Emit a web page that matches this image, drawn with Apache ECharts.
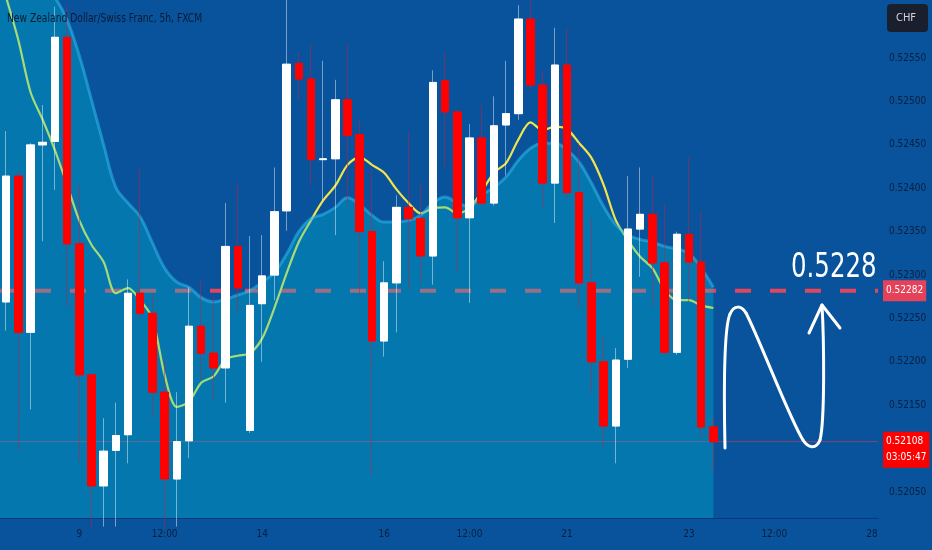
<!DOCTYPE html>
<html>
<head>
<meta charset="utf-8">
<script src="https://cdn.jsdelivr.net/npm/echarts@6/dist/echarts.min.js"></script>
<style>
  html, body { margin: 0; padding: 0; background: #08539c; }
  #chart { width: 932px; height: 550px; }
</style>
</head>
<body>
<div id="chart"></div>
<script>
const FONT = "'DejaVu Sans Condensed', 'DejaVu Sans', sans-serif";

// 5h candles
const opens = [
  0.52269, 0.52414, 0.52234, 0.52450, 0.52454, 0.52574, 0.52336, 0.52185, 0.52057, 0.52098,
  0.52116, 0.52279, 0.52256, 0.52165, 0.52065, 0.52109, 0.52241, 0.52210, 0.52193, 0.52333,
  0.52121, 0.52267, 0.52300, 0.52374, 0.52544, 0.52526, 0.52433, 0.52434, 0.52502, 0.52462,
  0.52350, 0.52224, 0.52291, 0.52378, 0.52365, 0.52322, 0.52524, 0.52488, 0.52366, 0.52458,
  0.52383, 0.52473, 0.52486, 0.52595, 0.52519, 0.52406, 0.52542, 0.52395, 0.52291, 0.52200,
  0.52126, 0.52203, 0.52353, 0.52370, 0.52314, 0.52211, 0.52347, 0.52315, 0.52125
];
const closes = [
  0.52414, 0.52234, 0.52450, 0.52453, 0.52574, 0.52336, 0.52185, 0.52057, 0.52097, 0.52115,
  0.52279, 0.52256, 0.52165, 0.52065, 0.52108, 0.52241, 0.52210, 0.52193, 0.52333, 0.52285,
  0.52265, 0.52299, 0.52373, 0.52543, 0.52526, 0.52433, 0.52434, 0.52502, 0.52461, 0.52350,
  0.52224, 0.52291, 0.52378, 0.52365, 0.52322, 0.52522, 0.52488, 0.52366, 0.52458, 0.52383,
  0.52472, 0.52486, 0.52595, 0.52519, 0.52406, 0.52542, 0.52395, 0.52291, 0.52200, 0.52126,
  0.52202, 0.52353, 0.52370, 0.52314, 0.52211, 0.52347, 0.52315, 0.52125, 0.52108
];
const lows = [
  0.52236, 0.52098, 0.52145, 0.52339, 0.52398, 0.52263, 0.52085, 0.52010, 0.52010, 0.52010,
  0.52083, 0.52250, 0.52136, 0.52010, 0.52010, 0.52089, 0.52179, 0.52157, 0.52153, 0.52257,
  0.52118, 0.52200, 0.52271, 0.52351, 0.52502, 0.52403, 0.52386, 0.52346, 0.52383, 0.52277,
  0.52070, 0.52206, 0.52234, 0.52283, 0.52291, 0.52289, 0.52424, 0.52304, 0.52268, 0.52380,
  0.52380, 0.52415, 0.52479, 0.52515, 0.52378, 0.52360, 0.52388, 0.52262, 0.52164, 0.52102,
  0.52083, 0.52193, 0.52298, 0.52263, 0.52208, 0.52208, 0.52269, 0.52111, 0.52075
];
const highs = [
  0.52466, 0.52420, 0.52452, 0.52496, 0.52609, 0.52611, 0.52404, 0.52186, 0.52135, 0.52153,
  0.52295, 0.52423, 0.52279, 0.52202, 0.52165, 0.52286, 0.52294, 0.52274, 0.52383, 0.52407,
  0.52345, 0.52346, 0.52424, 0.52625, 0.52557, 0.52567, 0.52547, 0.52525, 0.52567, 0.52479,
  0.52423, 0.52316, 0.52392, 0.52465, 0.52407, 0.52536, 0.52557, 0.52490, 0.52474, 0.52496,
  0.52506, 0.52547, 0.52611, 0.52620, 0.52536, 0.52585, 0.52585, 0.52452, 0.52366, 0.52229,
  0.52216, 0.52414, 0.52424, 0.52414, 0.52382, 0.52350, 0.52436, 0.52374, 0.52136
];

// upper edge of the shaded band, one value per candle
const cloud = [
  0.52732, 0.52698, 0.52663, 0.52634, 0.52620, 0.52594, 0.52553, 0.52502, 0.52450, 0.52401,
  0.52383, 0.52367, 0.52337, 0.52308, 0.52292, 0.52286, 0.52274, 0.52269, 0.52272, 0.52277,
  0.52282, 0.52292, 0.52303, 0.52324, 0.52350, 0.52365, 0.52370, 0.52378, 0.52389, 0.52381,
  0.52369, 0.52361, 0.52361, 0.52363, 0.52369, 0.52383, 0.52390, 0.52383, 0.52379, 0.52392,
  0.52401, 0.52413, 0.52432, 0.52446, 0.52452, 0.52452, 0.52444, 0.52430, 0.52406, 0.52379,
  0.52358, 0.52346, 0.52341, 0.52338, 0.52333, 0.52330, 0.52325, 0.52308, 0.52286
];

// moving average line
const ma = [
  0.52620, 0.52571, 0.52511, 0.52479, 0.52444, 0.52404, 0.52363, 0.52335, 0.52315, 0.52279,
  0.52285, 0.52271, 0.52250, 0.52185, 0.52148, 0.52154, 0.52176, 0.52183, 0.52203, 0.52207,
  0.52210, 0.52227, 0.52262, 0.52302, 0.52338, 0.52363, 0.52386, 0.52403, 0.52427, 0.52436,
  0.52427, 0.52418, 0.52399, 0.52383, 0.52371, 0.52377, 0.52378, 0.52371, 0.52377, 0.52396,
  0.52418, 0.52429, 0.52456, 0.52476, 0.52467, 0.52471, 0.52468, 0.52452, 0.52435, 0.52404,
  0.52363, 0.52340, 0.52321, 0.52308, 0.52283, 0.52271, 0.52271, 0.52265, 0.52262
];

const slotCount = 72; // candles plus empty future slots on the time axis
const tickIndex = [6, 13, 21, 31, 38, 46, 56, 63, 71];
const tickText = ["9", "12:00", "14", "16", "12:00", "21", "23", "12:00", "28"];
const priceTicks = [0.5205, 0.521, 0.5215, 0.522, 0.5225, 0.523, 0.5235, 0.524, 0.5245, 0.525, 0.5255];

const targetLevel = 0.52282;
const lastPrice = 0.52108;
const countdown = "03:05:47";

const categories = [];
for (let i = 0; i < slotCount; i++) categories.push(String(i));

const ohlc = opens.map((o, i) => [o, closes[i], lows[i], highs[i]]);
const bodies = opens.map((o, i) => [o, closes[i], Math.min(o, closes[i]), Math.max(o, closes[i])]);

// horizontal level across the whole plot, with a price tag at the right end
function levelSeries(name, value, lineStyle, labelText, tag) {
  return {
    name: name,
    type: "line",
    xAxisIndex: 1,
    data: [[-0.5, value], [slotCount - 0.5, value]],
    showSymbol: false,
    silent: true,
    lineStyle: lineStyle,
    z: 1,
    endLabel: Object.assign(
      {
        show: true,
        distance: 5,
        formatter: () => labelText,
        color: "#ffffff",
        lineHeight: 16,
        fontSize: 10,
        fontFamily: FONT,
      },
      tag
    ),
  };
}

const dom = document.getElementById("chart");
const myChart = echarts.init(dom);

// hand drawn "N" arrow pointing up to the target
const arrowStyle = { stroke: "#ffffff", lineWidth: 3, fill: null, lineCap: "round", lineJoin: "round" };
const arrowCurves = [
  [725, 448, 724, 400, 723, 330, 730, 314],
  [730, 314, 734, 305, 741, 305, 746, 313],
  [746, 313, 760, 340, 790, 420, 803, 440],
  [803, 440, 808, 448, 816, 450, 820, 440],
  [820, 440, 825, 420, 824, 340, 822, 305],
].map((c) => ({
  type: "bezierCurve",
  shape: { x1: c[0], y1: c[1], cpx1: c[2], cpy1: c[3], cpx2: c[4], cpy2: c[5], x2: c[6], y2: c[7] },
  style: arrowStyle,
  z: 101,
}));

const option = {
  backgroundColor: "#08539c",
  animation: false,
  grid: { left: 0, right: 54, top: 0, bottom: 32 },
  xAxis: [
    {
      type: "category",
      data: categories,
      boundaryGap: true,
      axisLine: { show: true, lineStyle: { color: "rgba(0,40,110,0.6)" } },
      axisTick: { show: false },
      splitLine: { show: false },
      axisLabel: {
        interval: (index) => tickIndex.includes(index),
        formatter: (value, index) => {
          const k = tickIndex.indexOf(index);
          return k >= 0 ? tickText[k] : "";
        },
        color: "#0b1f3f",
        fontSize: 10,
        margin: 11,
        fontFamily: FONT,
      },
    },
    {
      type: "value",
      min: -0.5,
      max: slotCount - 0.5,
      show: false,
    },
  ],
  yAxis: {
    type: "value",
    position: "right",
    min: 0.5202,
    max: 0.52617,
    scale: true,
    splitLine: { show: false },
    axisLine: { show: false },
    axisTick: { show: false },
    axisLabel: {
      customValues: priceTicks,
      formatter: (v) => v.toFixed(5),
      color: "#0b1f3f",
      fontSize: 10,
      margin: 11,
      fontFamily: FONT,
    },
  },
  graphic: [
    {
      type: "text",
      x: 7,
      y: 19,
      scaleX: 0.85,
      style: {
        text: "New Zealand Dollar/Swiss Franc, 5h, FXCM",
        fill: "#0b1a30",
        fontSize: 12,
        fontFamily: FONT,
        verticalAlign: "middle",
      },
      z: 100,
    },
    {
      type: "rect",
      shape: { x: 887, y: 4, width: 41, height: 28, r: 4 },
      style: { fill: "#1a1f2e" },
      z: 100,
    },
    {
      type: "text",
      x: 896,
      y: 18,
      style: { text: "CHF", fill: "#d1d4dc", fontSize: 11, fontFamily: FONT, verticalAlign: "middle" },
      z: 101,
    },
    {
      type: "text",
      x: 791,
      y: 268,
      scaleX: 0.8,
      style: {
        text: "0.5228",
        fill: "#ffffff",
        fontSize: 34,
        fontFamily: FONT,
        verticalAlign: "middle",
      },
      z: 101,
    },
    ...arrowCurves,
    {
      type: "polyline",
      shape: { points: [[809, 333], [822, 305], [840, 328]] },
      style: arrowStyle,
      z: 101,
    },
  ],
  series: [
    levelSeries(
      "target",
      targetLevel,
      { color: "rgba(240,68,88,0.95)", width: 4, type: [16, 19] },
      targetLevel.toFixed(5),
      { backgroundColor: "#e5425a", padding: [3, 3, 2, 3] }
    ),
    levelSeries(
      "last",
      lastPrice,
      { color: "rgba(210,60,90,0.6)", width: 1, type: "solid" },
      lastPrice.toFixed(5) + "\n" + countdown,
      { backgroundColor: "#ff0000", padding: [2, 3, 2, 3], offset: [0, 8] }
    ),
    {
      name: "MA",
      type: "line",
      xAxisIndex: 1,
      data: ma.map((v, i) => [i, v]),
      showSymbol: false,
      smooth: 0.3,
      lineStyle: { color: "#f2e44a", width: 2.2 },
      z: 1,
    },
    {
      name: "band",
      type: "line",
      xAxisIndex: 1,
      data: [[-0.5, cloud[0]]].concat(cloud.map((v, i) => [i, v])),
      showSymbol: false,
      smooth: 0.4,
      lineStyle: { color: "rgba(45,185,235,0.55)", width: 3 },
      areaStyle: { color: "rgba(0,197,216,0.45)", origin: "start" },
      z: 2,
    },
    {
      name: "wicks",
      type: "candlestick",
      data: ohlc,
      barWidth: 8,
      itemStyle: {
        color: "rgba(255,255,255,0.45)",
        color0: "rgba(200,30,60,0.5)",
        borderColor: "rgba(255,255,255,0.45)",
        borderColor0: "rgba(200,30,60,0.5)",
        borderWidth: 1,
      },
      z: 3,
    },
    {
      name: "bodies",
      type: "candlestick",
      data: bodies,
      barWidth: 8,
      itemStyle: {
        color: "#ffffff",
        color0: "#ff0000",
        borderColor: "#ffffff",
        borderColor0: "#ff0000",
        borderWidth: 1,
      },
      z: 4,
    },
  ],
};

option && myChart.setOption(option);
</script>
</body>
</html>
